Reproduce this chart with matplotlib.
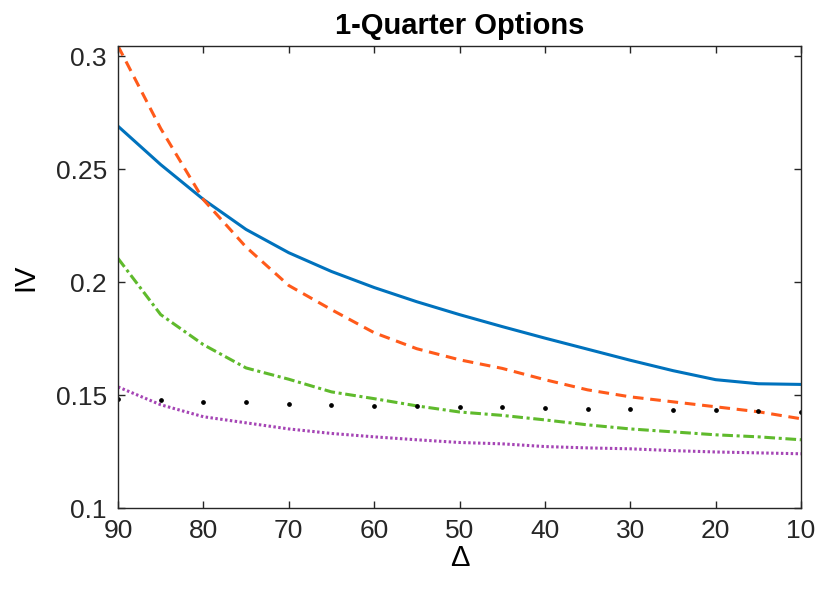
import matplotlib
matplotlib.use("Agg")
import matplotlib.pyplot as plt

plt.rcParams['font.family'] = ['Liberation Sans', 'DejaVu Sans']

delta = [90, 85, 80, 75, 70, 65, 60, 55, 50, 45, 40, 35, 30, 25, 20, 15, 10]

iv_blue = [0.269, 0.252, 0.2366, 0.2233, 0.213, 0.2047, 0.1976, 0.1913, 0.1856,
           0.1803, 0.1752, 0.1703, 0.1654, 0.1608, 0.1568, 0.1550, 0.1547]
iv_orange = [0.3045, 0.268, 0.2365, 0.2155, 0.1985, 0.1878, 0.1776, 0.1705, 0.1656,
             0.1618, 0.1568, 0.1523, 0.1492, 0.1470, 0.1448, 0.1426, 0.1395]
iv_green = [0.2105, 0.1856, 0.1723, 0.1620, 0.1570, 0.1514, 0.1484, 0.1452, 0.1425,
            0.1410, 0.1390, 0.1368, 0.1350, 0.1337, 0.1324, 0.1315, 0.1302]
iv_purple = [0.1536, 0.1457, 0.1404, 0.1377, 0.1350, 0.1330, 0.1315, 0.1302, 0.1290,
             0.1284, 0.1272, 0.1266, 0.1262, 0.1254, 0.1248, 0.1244, 0.1240]
iv_dots = [0.1483, 0.1479, 0.1471, 0.1467, 0.1461, 0.1455, 0.1452, 0.1451, 0.1449,
           0.1445, 0.1442, 0.1439, 0.1437, 0.1436, 0.1433, 0.1429, 0.1423]

xticks = [90, 80, 70, 60, 50, 40, 30, 20, 10]
yticks = [0.1, 0.15, 0.2, 0.25, 0.3]
yticklabels = ['0.1', '0.15', '0.2', '0.25', '0.3']

fig = plt.figure(figsize=(8.19, 5.91), dpi=100)
ax = fig.add_axes([118/819, 1-508/591, (801-118)/819, (508-46)/591])

ax.plot(delta, iv_blue, color='#0072BD', lw=2.2, solid_capstyle='butt')
ax.plot(delta, iv_orange, color='#FF5A1A', lw=2.2, ls=(0, (3.5, 2.2)))
ax.plot(delta, iv_green, color='#5FBA2C', lw=2.2, ls=(0, (3.5, 1.2, 1.0, 1.2)))
ax.plot(delta, iv_purple, color='#A545B5', lw=2.2, ls=(0, (0.8, 0.8)))
ax.plot(delta, iv_dots, ls='none', marker='o', ms=2.4, color='black')

ax.set_xlim(90, 10)
ax.set_ylim(0.1, 0.3045)
ax.set_xticks(xticks)
ax.set_xticklabels([str(t) for t in xticks])
ax.set_yticks(yticks)
ax.set_yticklabels(yticklabels)

ax.tick_params(axis='both', direction='in', length=5, width=1, labelsize=19,
               colors='#262626', top=True, right=True)
ax.tick_params(axis='x', pad=8)
ax.tick_params(axis='y', pad=8)
for s in ax.spines.values():
    s.set_color('#262626')
    s.set_linewidth(1.0)

ax.set_title('1-Quarter Options', fontsize=21, fontweight='bold', pad=9)
ax.set_xlabel('Δ', fontsize=21, labelpad=1)
ax.set_ylabel('IV', fontsize=21, labelpad=12)

fig.savefig('out.png', dpi=100)
